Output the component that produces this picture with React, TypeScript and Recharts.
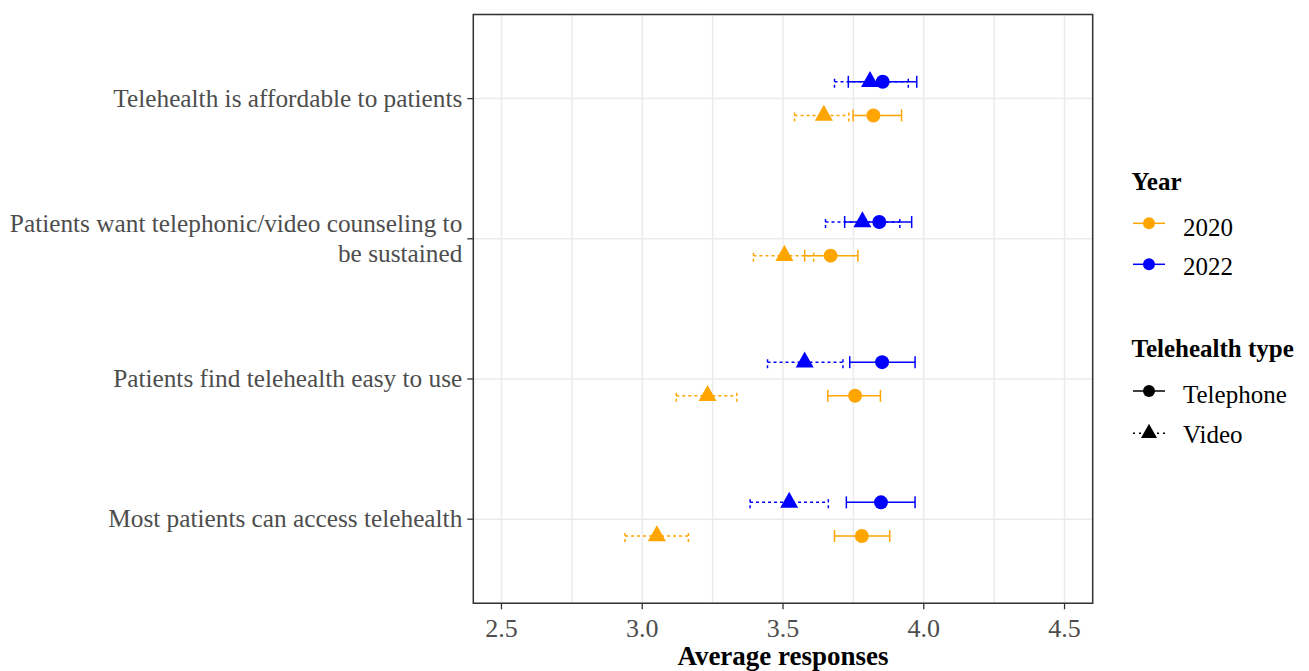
import React from 'react'
import {
    ScatterChart,
    Scatter,
    XAxis,
    YAxis,
    CartesianGrid,
    ErrorBar,
    ReferenceArea,
} from 'recharts'

// categories, top to bottom ("\n" marks the label line break)
const categories = [
    'Telehealth is affordable to patients',
    'Patients want telephonic/video counseling to\nbe sustained',
    'Patients find telehealth easy to use',
    'Most patients can access telehealth',
]

// means and interval bounds, same order as categories
const telephone2022 = [3.854, 3.842, 3.852, 3.848]
const telephone2022Low = [3.732, 3.719, 3.737, 3.725]
const telephone2022High = [3.975, 3.957, 3.969, 3.969]

const video2022 = [3.809, 3.782, 3.577, 3.522]
const video2022Low = [3.683, 3.651, 3.445, 3.383]
const video2022High = [3.945, 3.915, 3.713, 3.661]

const telephone2020 = [3.821, 3.669, 3.756, 3.780]
const telephone2020Low = [3.749, 3.577, 3.659, 3.683]
const telephone2020High = [3.921, 3.766, 3.846, 3.879]

const video2020 = [3.645, 3.505, 3.232, 3.052]
const video2020Low = [3.541, 3.395, 3.121, 2.939]
const video2020High = [3.734, 3.609, 3.336, 3.164]

const xTicks = [2.5, 2.75, 3.0, 3.25, 3.5, 3.75, 4.0, 4.25, 4.5]
const xMajor = [2.5, 3.0, 3.5, 4.0, 4.5]
const yTicks = [1, 2, 3, 4]

const ORANGE = '#FFA500'
const BLUE = '#0000FF'
const FONT = '"Liberation Serif", "Times New Roman", serif'
const DODGE = 0.12

const buildSeries = (means: number[], lows: number[], highs: number[], offset: number) =>
    means.map((m, i) => ({
        x: m,
        y: categories.length - i + offset,
        err: [m - lows[i], highs[i] - m],
    }))

const CircleShape = (props: any) => {
    const { cx, cy, fill } = props
    return <circle cx={cx} cy={cy} r={7} fill={fill} />
}

const TriangleShape = (props: any) => {
    const { cx, cy, fill } = props
    const pts = `${cx},${cy - 10.7} ${cx - 9},${cy + 5.3} ${cx + 9},${cy + 5.3}`
    return <polygon points={pts} fill={fill} />
}

const YTick = (props: any) => {
    const { x, y, payload } = props
    const idx = categories.length - payload.value
    const lines = (categories[idx] || '').split('\n')
    const lh = 30
    const first = -((lines.length - 1) / 2) * lh
    return (
        <g>
            <line x1={x} x2={x + 6} y1={y} y2={y} stroke="#333" strokeWidth={1.3} />
            <text x={x - 5} y={y} textAnchor="end" fill="#4d4d4d" fontSize={25.3} fontFamily={FONT}>
                {lines.map((l, i) => (
                    <tspan key={i} x={x - 5} dy={i === 0 ? first + 8 : lh}>{l}</tspan>
                ))}
            </text>
        </g>
    )
}

const XTick = (props: any) => {
    const { x, y, payload } = props
    if (!xMajor.includes(payload.value)) return null
    return (
        <g>
            <line x1={x} x2={x} y1={y - 6} y2={y} stroke="#333" strokeWidth={1.3} />
            <text x={x} y={y + 28} textAnchor="middle" fill="#4d4d4d" fontSize={26} fontFamily={FONT}>
                {payload.value.toFixed(1)}
            </text>
        </g>
    )
}

function LegendPanel() {
    const keyX1 = 1125
    const keyX2 = 1157
    const keyC = 1141
    const textX = 1175
    const title = { fontSize: 25, fontWeight: 700, fontFamily: FONT, fill: '#000' }
    const label = { fontSize: 25, fontFamily: FONT, fill: '#000' }
    return (
        <svg width={1301} height={663} style={{ position: 'absolute', left: 0, top: 0, pointerEvents: 'none' }}>
            <text x={1123.5} y={182} {...title}>Year</text>
            <line x1={keyX1} x2={keyX2} y1={215.3} y2={215.3} stroke={ORANGE} strokeWidth={1.5} />
            <circle cx={keyC} cy={215.3} r={6} fill={ORANGE} />
            <text x={textX} y={228} {...label}>2020</text>
            <line x1={keyX1} x2={keyX2} y1={256.3} y2={256.3} stroke={BLUE} strokeWidth={1.5} />
            <circle cx={keyC} cy={256.3} r={6} fill={BLUE} />
            <text x={textX} y={267} {...label}>2022</text>

            <text x={1123.5} y={348.7} {...title}>Telehealth type</text>
            <line x1={keyX1} x2={keyX2} y1={383} y2={383} stroke="#000" strokeWidth={1.5} />
            <circle cx={keyC} cy={383} r={6} fill="#000" />
            <text x={textX} y={395} {...label}>Telephone</text>
            <line x1={keyX1} x2={keyX2} y1={425.3} y2={425.3} stroke="#000" strokeWidth={1.5} strokeDasharray="2 4" />
            <polygon points={`${keyC},${425.3 - 9.5} ${keyC - 8},${425.3 + 4.7} ${keyC + 8},${425.3 + 4.7}`} fill="#000" />
            <text x={textX} y={435} {...label}>Video</text>
        </svg>
    )
}

export default function App() {
    const v2020 = buildSeries(video2020, video2020Low, video2020High, -DODGE)
    const t2020 = buildSeries(telephone2020, telephone2020Low, telephone2020High, -DODGE)
    const v2022 = buildSeries(video2022, video2022Low, video2022High, DODGE)
    const t2022 = buildSeries(telephone2022, telephone2022Low, telephone2022High, DODGE)

    return (
        <div style={{ position: 'relative', width: 1301, height: 663, fontFamily: FONT }}>
            <ScatterChart width={1301} height={663} margin={{ top: 6.5, right: 216.3, bottom: 0, left: 0 }}>
                <CartesianGrid stroke="#ebebeb" strokeWidth={1.5} />
                <XAxis
                    type="number"
                    dataKey="x"
                    domain={[2.4, 4.6]}
                    ticks={xTicks}
                    allowDataOverflow
                    height={67.7}
                    axisLine={false}
                    tickLine={false}
                    tickSize={6}
                    tickMargin={0}
                    tick={<XTick />}
                    interval={0}
                    label={{
                        value: 'Average responses',
                        position: 'insideBottom',
                        offset: 6,
                        fill: '#000',
                        fontSize: 27,
                        fontWeight: 700,
                        fontFamily: FONT,
                    }}
                />
                <YAxis
                    type="number"
                    dataKey="y"
                    domain={[0.4, 4.6]}
                    ticks={yTicks}
                    allowDataOverflow
                    width={465.3}
                    axisLine={false}
                    tickLine={false}
                    tickSize={6}
                    tickMargin={0}
                    tick={<YTick />}
                    interval={0}
                />
                <ReferenceArea x1={2.4} x2={4.6} y1={0.4} y2={4.6} fill="none" fillOpacity={0} stroke="#333" strokeWidth={1.5} />
                <Scatter data={v2020} fill={ORANGE} shape={<TriangleShape />} isAnimationActive={false}>
                    <ErrorBar dataKey="err" direction="x" width={6} stroke={ORANGE} strokeWidth={1.5} strokeDasharray="3 3" isAnimationActive={false} />
                </Scatter>
                <Scatter data={t2020} fill={ORANGE} shape={<CircleShape />} isAnimationActive={false}>
                    <ErrorBar dataKey="err" direction="x" width={6} stroke={ORANGE} strokeWidth={1.5} isAnimationActive={false} />
                </Scatter>
                <Scatter data={v2022} fill={BLUE} shape={<TriangleShape />} isAnimationActive={false}>
                    <ErrorBar dataKey="err" direction="x" width={6} stroke={BLUE} strokeWidth={1.5} strokeDasharray="3 3" isAnimationActive={false} />
                </Scatter>
                <Scatter data={t2022} fill={BLUE} shape={<CircleShape />} isAnimationActive={false}>
                    <ErrorBar dataKey="err" direction="x" width={6} stroke={BLUE} strokeWidth={1.5} isAnimationActive={false} />
                </Scatter>
            </ScatterChart>
            <LegendPanel />
        </div>
    )
}
